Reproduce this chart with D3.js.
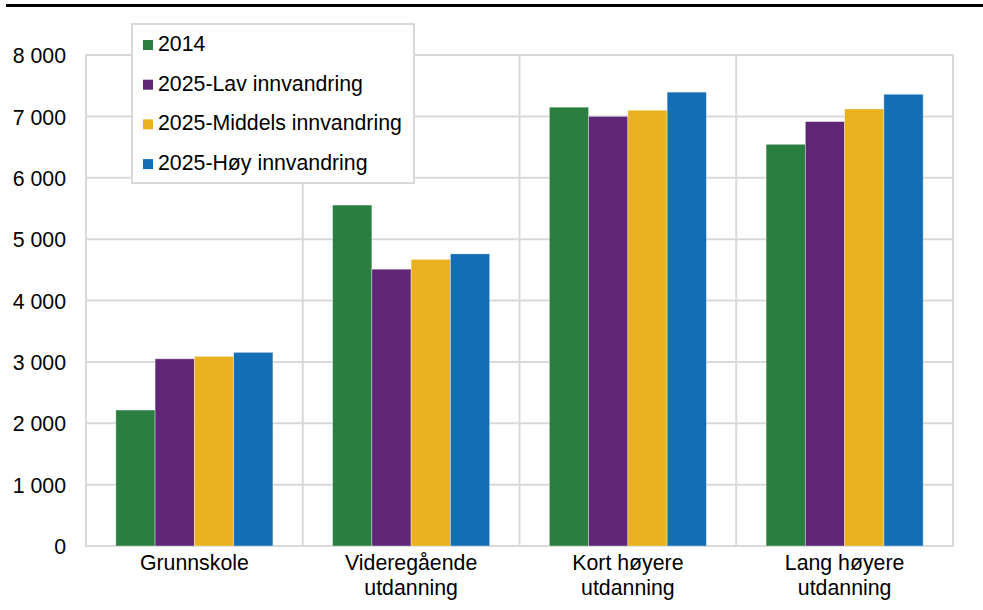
<!DOCTYPE html>
<html>
<head>
<meta charset="utf-8">
<script src="https://cdn.jsdelivr.net/npm/d3@7"></script>
<style>
  html, body { margin: 0; padding: 0; background: #fff; }
  svg { display: block; font-family: "Liberation Sans", Arial, sans-serif; }
</style>
</head>
<body>
<svg id="chart" width="983" height="610"></svg>
<script>
const categories = [["Grunnskole"], ["Videregående", "utdanning"], ["Kort høyere", "utdanning"], ["Lang høyere", "utdanning"]];
const seriesNames = ["2014", "2025-Lav innvandring", "2025-Middels innvandring", "2025-Høy innvandring"];
const seriesColors = ["#2a7f40", "#5f2676", "#eab221", "#136eb6"];
const values2014 = [2215, 5555, 7150, 6545];
const valuesLav = [3050, 4510, 7000, 6915];
const valuesMiddels = [3090, 4670, 7100, 7120];
const valuesHoy = [3155, 4760, 7395, 7360];
const yTicks = [0, 1000, 2000, 3000, 4000, 5000, 6000, 7000, 8000];

const seriesValues = [values2014, valuesLav, valuesMiddels, valuesHoy];
const catKeys = categories.map(c => c.join(" "));

const svg = d3.select("#chart");
const pLeft = 86, pRight = 953, pTop = 55, pBottom = 546;
const fontSize = 21.3;
const grid = "#d9d9d9";

// Top black rule
svg.append("rect").attr("x", 6).attr("y", 4).attr("width", 977).attr("height", 3).attr("fill", "#000");

const x0 = d3.scaleBand().domain(catKeys).range([pLeft, pRight]).padding(0);
const x1 = d3.scaleBand().domain(seriesNames).range([0, x0.bandwidth()]).paddingInner(0).paddingOuter(0.76);
const y = d3.scaleLinear().domain([0, 8000]).range([pBottom, pTop]);

const locale = d3.formatLocale({ decimal: ",", thousands: " ", grouping: [3], currency: ["", ""] });
const fmt = locale.format(",d");

// Horizontal gridlines
svg.append("g").selectAll("line").data(yTicks).join("line")
  .attr("x1", pLeft).attr("x2", pRight)
  .attr("y1", d => y(d)).attr("y2", d => y(d))
  .attr("stroke", grid).attr("stroke-width", 2);

// Vertical separators (band edges)
const edges = catKeys.map(k => x0(k)).concat([pRight]);
svg.append("g").selectAll("line").data(edges).join("line")
  .attr("x1", d => d).attr("x2", d => d)
  .attr("y1", pTop - 1).attr("y2", pBottom + 1)
  .attr("stroke", grid).attr("stroke-width", 2);

// Bars
const groups = svg.append("g").selectAll("g").data(catKeys).join("g")
  .attr("transform", k => `translate(${x0(k)},0)`);
groups.selectAll("rect").data((k, ci) => seriesNames.map((s, si) => ({ s, si, v: seriesValues[si][ci] })))
  .join("rect")
  .attr("x", d => x1(d.s))
  .attr("y", d => y(d.v))
  .attr("width", x1.bandwidth())
  .attr("height", d => y(0) - y(d.v))
  .attr("fill", d => seriesColors[d.si])
  .attr("stroke", "rgba(255,255,255,0.45)")
  .attr("stroke-width", 0.8);

// Y axis labels
const yAxis = d3.axisLeft(y).tickValues(yTicks).tickFormat(fmt).tickSize(0).tickPadding(0);
const yg = svg.append("g").attr("transform", `translate(66,0)`).call(yAxis);
yg.select(".domain").remove();
yg.selectAll("text").attr("font-size", fontSize).attr("fill", "#000")
  .attr("font-family", "Liberation Sans, Arial, sans-serif").attr("dy", "0.36em");

// X axis labels
const xg = svg.append("g");
categories.forEach((lines, i) => {
  const cx = x0(catKeys[i]) + x0.bandwidth() / 2;
  const t = xg.append("text").attr("text-anchor", "middle").attr("font-size", fontSize).attr("fill", "#000");
  lines.forEach((ln, j) => {
    t.append("tspan").attr("x", cx).attr("y", 570 + j * 25).text(ln);
  });
});

// Legend
const lg = svg.append("g");
lg.append("rect").attr("x", 132).attr("y", 24).attr("width", 282).attr("height", 159)
  .attr("fill", "#fff").attr("stroke", grid).attr("stroke-width", 2);
seriesNames.forEach((s, i) => {
  const base = 51 + i * 39.7;
  lg.append("rect").attr("x", 143).attr("y", base - 11).attr("width", 10).attr("height", 10).attr("fill", seriesColors[i]);
  lg.append("text").attr("x", 158).attr("y", base).attr("font-size", fontSize).attr("fill", "#000").text(s);
});
</script>
</body>
</html>
